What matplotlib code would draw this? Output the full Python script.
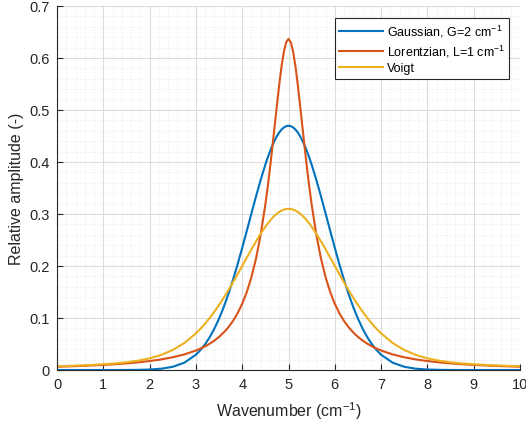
import matplotlib
matplotlib.use("Agg")
import matplotlib.pyplot as plt
from matplotlib.ticker import MultipleLocator, AutoMinorLocator, FuncFormatter

plt.rcParams['font.family'] = ['Liberation Sans', 'DejaVu Sans']
plt.rcParams['mathtext.fontset'] = 'custom'
plt.rcParams['mathtext.rm'] = 'Liberation Sans'

# Wavenumber grid (cm^-1)
wavenumber = [0.0, 0.25, 0.5, 0.75, 1.0, 1.25, 1.5, 1.75, 2.0, 2.25, 2.5, 2.75,
              3.0, 3.1, 3.2, 3.3, 3.4, 3.5, 3.6, 3.7, 3.8, 3.9,
              4.0, 4.1, 4.2, 4.3, 4.4,
              4.5, 4.55, 4.6, 4.65, 4.7, 4.75, 4.8, 4.85, 4.9, 4.95,
              5.0, 5.05, 5.1, 5.15, 5.2, 5.25, 5.3, 5.35, 5.4, 5.45, 5.5,
              5.6, 5.7, 5.8, 5.9,
              6.0, 6.1, 6.2, 6.3, 6.4, 6.5, 6.6, 6.7, 6.8, 6.9,
              7.0, 7.25, 7.5, 7.75, 8.0, 8.25, 8.5, 8.75, 9.0, 9.25, 9.5, 9.75, 10.0]

gaussian = [0.0, 0.0, 0.0, 0.0, 0.0, 0.0, 0.0001, 0.00031, 0.00092, 0.00249, 0.00617, 0.01406,
            0.02936, 0.03847, 0.04971, 0.06336, 0.07965, 0.09874, 0.12073, 0.14558, 0.17312, 0.20303,
            0.23485, 0.26791, 0.30141, 0.33443, 0.36598,
            0.39497, 0.40819, 0.42039, 0.43146, 0.44129, 0.44979, 0.45685, 0.46243, 0.46645, 0.46889,
            0.4697, 0.46889, 0.46645, 0.46243, 0.45685, 0.44979, 0.44129, 0.43146, 0.42039, 0.40819, 0.39497,
            0.36598, 0.33443, 0.30141, 0.26791,
            0.23485, 0.20303, 0.17312, 0.14558, 0.12073, 0.09874, 0.07965, 0.06336, 0.04971, 0.03847,
            0.02936, 0.01406, 0.00617, 0.00249, 0.00092, 0.00031, 0.0001, 0.0, 0.0, 0.0, 0.0, 0.0, 0.0]

lorentzian = [0.0063, 0.00698, 0.00776, 0.00869, 0.00979, 0.01112, 0.01273, 0.01472, 0.01721, 0.02037, 0.02449, 0.02996,
              0.03745, 0.04123, 0.0456, 0.05069, 0.05664, 0.06366, 0.07202, 0.08204, 0.09418, 0.10901,
              0.12732, 0.15015, 0.17883, 0.21507, 0.26091,
              0.31831, 0.35173, 0.38818, 0.42726, 0.4681, 0.5093, 0.54881, 0.58405, 0.61213, 0.63032,
              0.63662, 0.63032, 0.61213, 0.58405, 0.54881, 0.5093, 0.4681, 0.42726, 0.38818, 0.35173, 0.31831,
              0.26091, 0.21507, 0.17883, 0.15015,
              0.12732, 0.10901, 0.09418, 0.08204, 0.07202, 0.06366, 0.05664, 0.05069, 0.0456, 0.04123,
              0.03745, 0.02996, 0.02449, 0.02037, 0.01721, 0.01472, 0.01273, 0.01112, 0.00979, 0.00869, 0.00776, 0.00698, 0.0063]

voigt = [0.00716, 0.00789, 0.00874, 0.00977, 0.01103, 0.01267, 0.01487, 0.01797, 0.02243, 0.02897, 0.03845, 0.05191,
         0.0704, 0.07938, 0.08933, 0.10026, 0.11217, 0.125, 0.13873, 0.15324, 0.16842, 0.18413,
         0.20016, 0.21628, 0.23223, 0.24766, 0.26224,
         0.27556, 0.28163, 0.28723, 0.29231, 0.29682, 0.30073, 0.304, 0.30657, 0.30843, 0.30956,
         0.30993, 0.30956, 0.30843, 0.30657, 0.304, 0.30073, 0.29682, 0.29231, 0.28723, 0.28163, 0.27556,
         0.26224, 0.24766, 0.23223, 0.21628,
         0.20016, 0.18413, 0.16842, 0.15324, 0.13873, 0.125, 0.11217, 0.10026, 0.08933, 0.07938,
         0.0704, 0.05191, 0.03845, 0.02897, 0.02243, 0.01797, 0.01487, 0.01267, 0.01103, 0.00977, 0.00874, 0.00789, 0.00716]

labels = ['Gaussian, G=2 cm$^{-1}$', 'Lorentzian, L=1 cm$^{-1}$', 'Voigt']
colors = ['#0072BD', '#D95319', '#EDB120']

fig = plt.figure(figsize=(5.26, 4.27), dpi=100)
ax = fig.add_axes([57/526, 56/427, 463/526, 364/427])

for ys, lab, c in zip([gaussian, lorentzian, voigt], labels, colors):
    ax.plot(wavenumber, ys, color=c, lw=1.5, label=lab)

ax.set_xlim(0, 10)
ax.set_ylim(0, 0.7)
ax.xaxis.set_major_locator(MultipleLocator(1))
ax.yaxis.set_major_locator(MultipleLocator(0.1))
ax.xaxis.set_minor_locator(AutoMinorLocator(5))
ax.yaxis.set_minor_locator(AutoMinorLocator(5))
ax.yaxis.set_major_formatter(FuncFormatter(lambda v, p: '%g' % round(v, 3)))

ax.grid(which='major', color='#dcdcdc', lw=0.8)
ax.grid(which='minor', color='#e4e4e4', lw=0.6, ls=(0, (1, 2)))
ax.set_axisbelow(True)

for s in ['top', 'right']:
    ax.spines[s].set_visible(False)
for s in ['left', 'bottom']:
    ax.spines[s].set_color('#262626')
    ax.spines[s].set_linewidth(0.8)

ax.tick_params(which='major', direction='in', length=4, color='#262626', labelcolor='#262626', labelsize=10.5, pad=5)
ax.tick_params(which='minor', direction='in', length=0)

ax.set_xlabel('Wavenumber (cm$^{-1}$)', fontsize=11.5, color='#262626', labelpad=6)
ax.set_ylabel('Relative amplitude (-)', fontsize=11.5, color='#262626')

leg = ax.legend(loc='upper right', bbox_to_anchor=(0.977, 0.967), fontsize=9, frameon=True,
                fancybox=False, edgecolor='#262626', framealpha=1, handlelength=3.5,
                borderpad=0.35, labelspacing=0.3, handletextpad=0.3, borderaxespad=0)
leg.get_frame().set_linewidth(0.8)

fig.savefig('out.png', dpi=100)
